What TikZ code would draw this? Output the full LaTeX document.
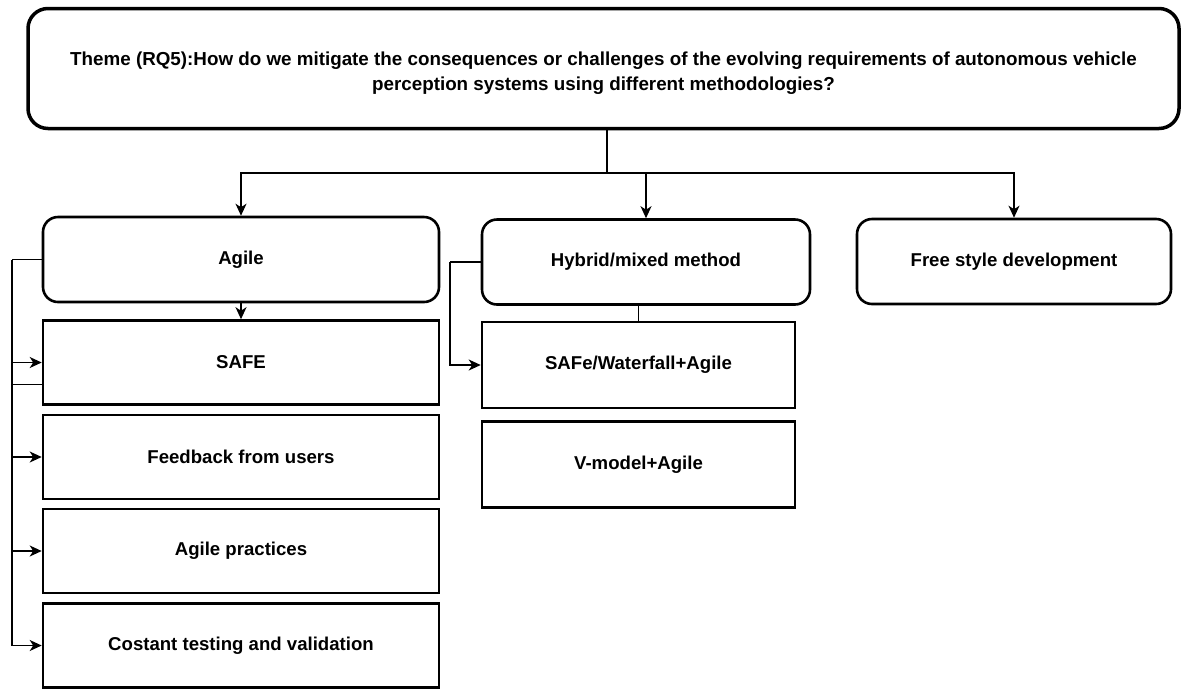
\documentclass[tikz,border=0pt]{standalone}
\usepackage{fontspec}
\setmainfont{Liberation Sans}
\usepackage{tikz}
\usetikzlibrary{arrows.meta, positioning, calc}

\begin{document}
\begin{tikzpicture}[
  x=1pt, y=-1pt,
  themebox/.style={draw, line width=3.5pt, rounded corners=20pt, minimum width=1151pt,
                   minimum height=120pt, align=center, font=\bfseries\fontsize{18.8}{25}\selectfont},
  roundbox/.style={draw, line width=2.6pt, rounded corners=15pt, minimum height=85pt,
                   inner sep=0pt, font=\bfseries\fontsize{18.6}{22}\selectfont},
  plainbox/.style={draw, line width=2.6pt, minimum height=84pt, minimum width=396pt,
                   inner sep=0pt, font=\bfseries\fontsize{18.6}{22}\selectfont},
  arrbase/.style={-{Stealth[length=12pt, width=11pt, inset=3.5pt]}, line width=1.4pt}
]
\useasboundingbox (0,0) rectangle (1182,689);

% Theme box on top
\node[themebox] (theme) at (603.5, 68.5)
  {\rule{0pt}{22pt}Theme (RQ5):How do we mitigate the consequences or challenges of the evolving requirements of autonomous vehicle\\
   perception systems using different methodologies?};

% Three methodology groups
\node[roundbox, minimum width=396pt] (agile) at (241, 259.5) {Agile};
\node[roundbox, minimum width=328pt] (hybrid) at (646, 262) {Hybrid/mixed method};
\node[roundbox, minimum width=314pt] (free) at (1014, 261.5) {Free style development};

% Agile column
\node[plainbox] (safe) at (241, 362.5) {SAFE};
\node[plainbox] (feedback) at (241, 457) {Feedback from users};
\node[plainbox] (practices) at (241, 551) {Agile practices};
\node[plainbox] (testing) at (241, 645.5) {Costant testing and validation};

% Hybrid column
\node[plainbox, minimum width=313pt, minimum height=86pt] (safew) at (638.5, 365) {SAFe/Waterfall+Agile};
\node[plainbox, minimum width=313pt, minimum height=86pt] (vmodel) at (638.5, 464.5) {V-model+Agile};

% Split from theme to the three groups
\coordinate (split) at (607, 173);
\draw[line width=1.4pt] (theme.south -| split) -- (split);
\foreach \n in {agile, hybrid, free}{
  \draw[arrbase] (split) -| (\n.north);
}

% Agile to its practices
\draw[arrbase] (agile.south) -- (safe.north);
\coordinate (lbus) at (12, 259.5);
\draw[line width=1.4pt] (agile.west) -- (lbus);
\foreach \n in {safe, feedback, practices, testing}{
  \draw[arrbase] (lbus) |- (\n.west);
}
\draw[line width=1.4pt] ([yshift=-22pt]safe.west) -- ([yshift=-22pt]safe.west -| lbus);

% Hybrid to its variants
\coordinate (hbus) at (450, 262);
\draw[line width=1.4pt] (hybrid.west) -- (hbus);
\draw[arrbase] (hbus) |- (safew.west);
\draw[line width=1.4pt] (safew.north) -- (safew.north |- hybrid.south);

\end{tikzpicture}
\end{document}
